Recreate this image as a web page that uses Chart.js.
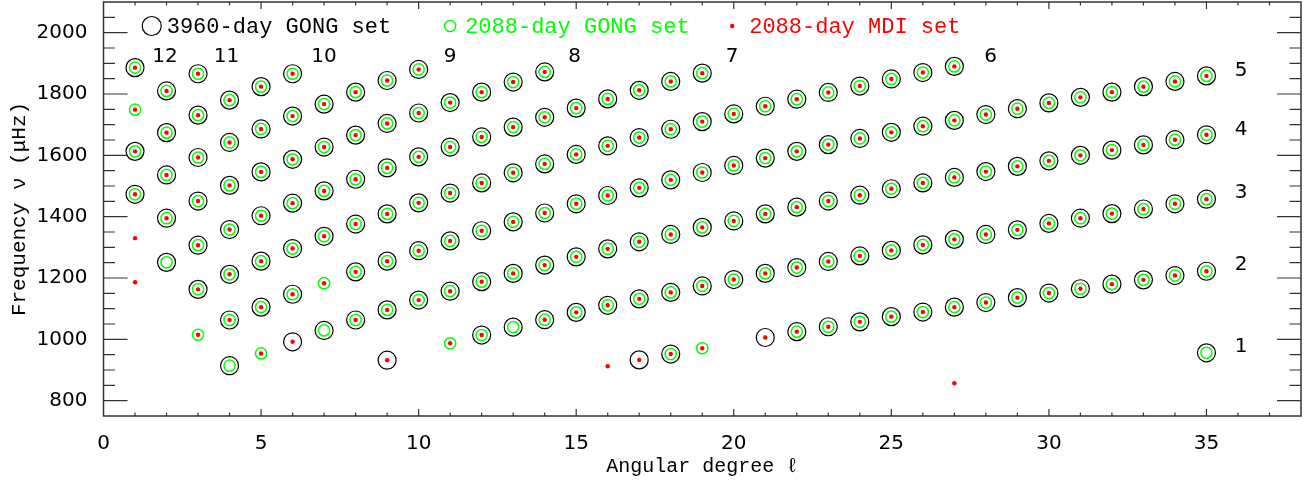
<!DOCTYPE html>
<html>
<head>
<meta charset="utf-8">
<script src="https://cdn.jsdelivr.net/npm/chart.js@4.4.1/dist/chart.umd.min.js"></script>
<style>
  body { margin: 0; background: #fff; }
  canvas { display: block; }
</style>
</head>
<body>
<canvas id="modes" width="1313" height="484"></canvas>
<script>
// mode frequencies (muHz), one row per degree l = 1..35
const freqs = [
  [1186, 1330, 1473, 1613, 1749, 1886],
  [1251, 1395, 1536, 1674, 1810],
  [1015, 1163, 1307, 1451, 1593, 1731, 1866],
  [914, 1063, 1212, 1358, 1502, 1642, 1780],
  [954, 1105, 1255, 1403, 1546, 1686, 1824],
  [992, 1147, 1296, 1444, 1587, 1728, 1866],
  [1029, 1183, 1336, 1484, 1627, 1767],
  [1063, 1220, 1376, 1522, 1666, 1806],
  [932, 1096, 1255, 1409, 1559, 1704, 1844],
  [1128, 1289, 1445, 1595, 1738, 1880],
  [987, 1157, 1321, 1477, 1627, 1772],
  [1014, 1188, 1354, 1510, 1660, 1806],
  [1040, 1215, 1383, 1543, 1692, 1839],
  [1064, 1242, 1412, 1572, 1724, 1872],
  [1088, 1269, 1442, 1603, 1754],
  [912, 1111, 1295, 1469, 1631, 1784],
  [933, 1132, 1318, 1494, 1658, 1812],
  [952, 1153, 1342, 1520, 1685, 1841],
  [971, 1174, 1365, 1544, 1710, 1868],
  [1195, 1386, 1567, 1735],
  [1006, 1215, 1409, 1591, 1760],
  [1025, 1234, 1431, 1613, 1783],
  [1041, 1254, 1451, 1635, 1805],
  [1057, 1272, 1470, 1655, 1826],
  [1074, 1290, 1491, 1675, 1849],
  [1089, 1308, 1510, 1695, 1870],
  [857, 1105, 1326, 1528, 1714, 1890],
  [1120, 1342, 1547, 1733],
  [1136, 1357, 1564, 1752],
  [1151, 1378, 1582, 1771],
  [1165, 1395, 1600, 1789],
  [1180, 1410, 1617, 1806],
  [1194, 1425, 1634, 1824],
  [1208, 1442, 1651, 1841],
  [956, 1222, 1457, 1667, 1859]
]

// which sets have each mode: K = 3960-day GONG, G = 2088-day GONG, R = 2088-day MDI
const sets = [
  ['R', 'R', 'KGR', 'KGR', 'GR', 'KGR'],
  ['KG', 'KGR', 'KGR', 'KGR', 'KGR'],
  ['GR', 'KGR', 'KGR', 'KGR', 'KGR', 'KGR', 'KGR'],
  ['KG', 'KGR', 'KGR', 'KGR', 'KGR', 'KGR', 'KGR'],
  ['GR', 'KGR', 'KGR', 'KGR', 'KGR', 'KGR', 'KGR'],
  ['KR', 'KGR', 'KGR', 'KGR', 'KGR', 'KGR', 'KGR'],
  ['KG', 'GR', 'KGR', 'KGR', 'KGR', 'KGR'],
  ['KGR', 'KGR', 'KGR', 'KGR', 'KGR', 'KGR'],
  ['KR', 'KGR', 'KGR', 'KGR', 'KGR', 'KGR', 'KGR'],
  ['KGR', 'KGR', 'KGR', 'KGR', 'KGR', 'KGR'],
  ['GR', 'KGR', 'KGR', 'KGR', 'KGR', 'KGR'],
  ['KGR', 'KGR', 'KGR', 'KGR', 'KGR', 'KGR'],
  ['KG', 'KGR', 'KGR', 'KGR', 'KGR', 'KGR'],
  ['KGR', 'KGR', 'KGR', 'KGR', 'KGR', 'KGR'],
  ['KGR', 'KGR', 'KGR', 'KGR', 'KGR'],
  ['R', 'KGR', 'KGR', 'KGR', 'KGR', 'KGR'],
  ['KR', 'KGR', 'KGR', 'KGR', 'KGR', 'KGR'],
  ['KGR', 'KGR', 'KGR', 'KGR', 'KGR', 'KGR'],
  ['GR', 'KGR', 'KGR', 'KGR', 'KGR', 'KGR'],
  ['KGR', 'KGR', 'KGR', 'KGR'],
  ['KR', 'KGR', 'KGR', 'KGR', 'KGR'],
  ['KGR', 'KGR', 'KGR', 'KGR', 'KGR'],
  ['KGR', 'KGR', 'KGR', 'KGR', 'KGR'],
  ['KGR', 'KGR', 'KGR', 'KGR', 'KGR'],
  ['KGR', 'KGR', 'KGR', 'KGR', 'KGR'],
  ['KGR', 'KGR', 'KGR', 'KGR', 'KGR'],
  ['R', 'KGR', 'KGR', 'KGR', 'KGR', 'KGR'],
  ['KGR', 'KGR', 'KGR', 'KGR'],
  ['KGR', 'KGR', 'KGR', 'KGR'],
  ['KGR', 'KGR', 'KGR', 'KGR'],
  ['KGR', 'KGR', 'KGR', 'KGR'],
  ['KGR', 'KGR', 'KGR', 'KGR'],
  ['KGR', 'KGR', 'KGR', 'KGR'],
  ['KGR', 'KGR', 'KGR', 'KGR'],
  ['KG', 'KGR', 'KGR', 'KGR', 'KGR']
]

// radial order labels for each ridge and where they sit (l, nu)
const ridgeNames = ['1', '2', '3', '4', '5', '6', '7', '8', '9', '10', '11', '12']
const ridgeLabelDeg = [36.1, 36.1, 36.1, 36.1, 36.1, 28.15, 19.95, 14.95, 11.0, 7.0, 3.9, 1.95]
const ridgeLabelNu = [976, 1244, 1477, 1684, 1877, 1920, 1920, 1920, 1920, 1920, 1920, 1920]

const xTickValues = [0, 5, 10, 15, 20, 25, 30, 35]
const yTickValues = [800, 1000, 1200, 1400, 1600, 1800, 2000]

const tickFont = {family: 'DejaVu Sans', size: 20}
const monoFont = 'Liberation Mono'

function pick(flag){
    let pts = []
    freqs.forEach((row, i) => {
        row.forEach((nu, j) => {
            if (sets[i][j].includes(flag)) pts.push({x: i + 1, y: nu})
        })
    })
    return pts
}

// box with inward ticks on all four sides
const framePlugin = {
    id: 'frame',
    afterDraw(chart){
        const {ctx, chartArea: a, scales: {x, y}} = chart
        ctx.save()
        ctx.strokeStyle = '#333'
        ctx.lineWidth = 1.5
        ctx.strokeRect(a.left, a.top, a.right - a.left, a.bottom - a.top)
        ctx.lineWidth = 1.2
        ctx.beginPath()
        for (let v = 1; v < x.max; v++){
            let px = x.getPixelForValue(v)
            let len = v % 5 ? 3.5 : 7
            ctx.moveTo(px, a.bottom); ctx.lineTo(px, a.bottom - len)
            ctx.moveTo(px, a.top); ctx.lineTo(px, a.top + len)
        }
        for (let v = y.min + 50; v < y.max; v += 50){
            let py = y.getPixelForValue(v)
            let len = v % 200 ? 11.5 : 24
            ctx.moveTo(a.left, py); ctx.lineTo(a.left + len, py)
            ctx.moveTo(a.right, py); ctx.lineTo(a.right - len, py)
        }
        ctx.stroke()

        // ridge order numbers
        ctx.fillStyle = '#000'
        ctx.font = '20px "DejaVu Sans"'
        ctx.textAlign = 'center'
        ctx.textBaseline = 'middle'
        ridgeNames.forEach((name, i) => {
            ctx.fillText(name, x.getPixelForValue(ridgeLabelDeg[i]), y.getPixelForValue(ridgeLabelNu[i]))
        })

        // legend inside the top of the box
        const slots = [1.53, 11.0, 19.95]
        const ly = a.top + 24
        ctx.font = '22px "' + monoFont + '"'
        ctx.textAlign = 'left'
        chart.data.datasets.forEach((ds, i) => {
            let cx = x.getPixelForValue(slots[i])
            ctx.beginPath()
            ctx.arc(cx, ly, ds.legendRadius, 0, Math.PI * 2)
            if (ds.backgroundColor !== 'transparent'){
                ctx.fillStyle = ds.backgroundColor
                ctx.fill()
            } else {
                ctx.strokeStyle = ds.borderColor
                ctx.lineWidth = ds.borderWidth
                ctx.stroke()
            }
            ctx.fillStyle = ds.textColor
            ctx.fillText(ds.label, cx + ds.legendGap, ly + 1)
        })
        ctx.restore()
    }
}

const config = {
    type: 'scatter',
    data: {
        datasets: [
            {
                label: '3960-day GONG set',
                data: pick('K'),
                pointStyle: 'circle',
                pointRadius: 9,
                borderColor: '#000',
                borderWidth: 1.2,
                backgroundColor: 'transparent',
                textColor: '#000',
                legendRadius: 9.5,
                legendGap: 15,
                order: 3
            },
            {
                label: '2088-day GONG set',
                data: pick('G'),
                pointStyle: 'circle',
                pointRadius: 5.6,
                borderColor: '#00ff00',
                borderWidth: 1.5,
                backgroundColor: 'transparent',
                textColor: '#00ff00',
                legendRadius: 5.6,
                legendGap: 15,
                order: 2
            },
            {
                label: '2088-day MDI set',
                data: pick('R'),
                pointStyle: 'circle',
                pointRadius: 2.2,
                borderWidth: 0,
                borderColor: '#ff0000',
                backgroundColor: '#ff0000',
                textColor: '#ff0000',
                legendRadius: 2.2,
                legendGap: 17,
                order: 1
            }
        ]
    },
    options: {
        responsive: false,
        devicePixelRatio: 1,
        animation: false,
        events: [],
        layout: {autoPadding: false, padding: {top: 2, right: 12, bottom: 0, left: 0}},
        plugins: {
            legend: {display: false},
            tooltip: {enabled: false}
        },
        scales: {
            x: {
                type: 'linear',
                min: 0,
                max: 38,
                afterFit: (s) => { s.height = 68; s.paddingLeft = 0; s.paddingRight = 0 },
                afterBuildTicks: (s) => { s.ticks = xTickValues.map(v => ({value: v})) },
                grid: {display: false},
                border: {display: false},
                ticks: {font: tickFont, color: '#000', padding: 8, maxRotation: 0, callback: (v) => String(v)},
                title: {
                    display: true,
                    text: 'Angular degree ℓ',
                    color: '#000',
                    font: {family: monoFont, size: 20},
                    padding: {top: 0, bottom: 5}
                }
            },
            y: {
                type: 'linear',
                min: 750,
                max: 2100,
                afterFit: (s) => { s.width = 103.5; s.paddingTop = 0; s.paddingBottom = 0 },
                afterBuildTicks: (s) => { s.ticks = yTickValues.map(v => ({value: v})) },
                grid: {display: false},
                border: {display: false},
                ticks: {font: tickFont, color: '#000', padding: 8, callback: (v) => String(v)},
                title: {
                    display: true,
                    text: 'Frequency ν (μHz)',
                    color: '#000',
                    font: {family: monoFont, size: 21},
                    padding: {top: 7, bottom: 0}
                }
            }
        }
    },
    plugins: [framePlugin]
}

const chart = new Chart(document.getElementById('modes'), config)
</script>
</body>
</html>
